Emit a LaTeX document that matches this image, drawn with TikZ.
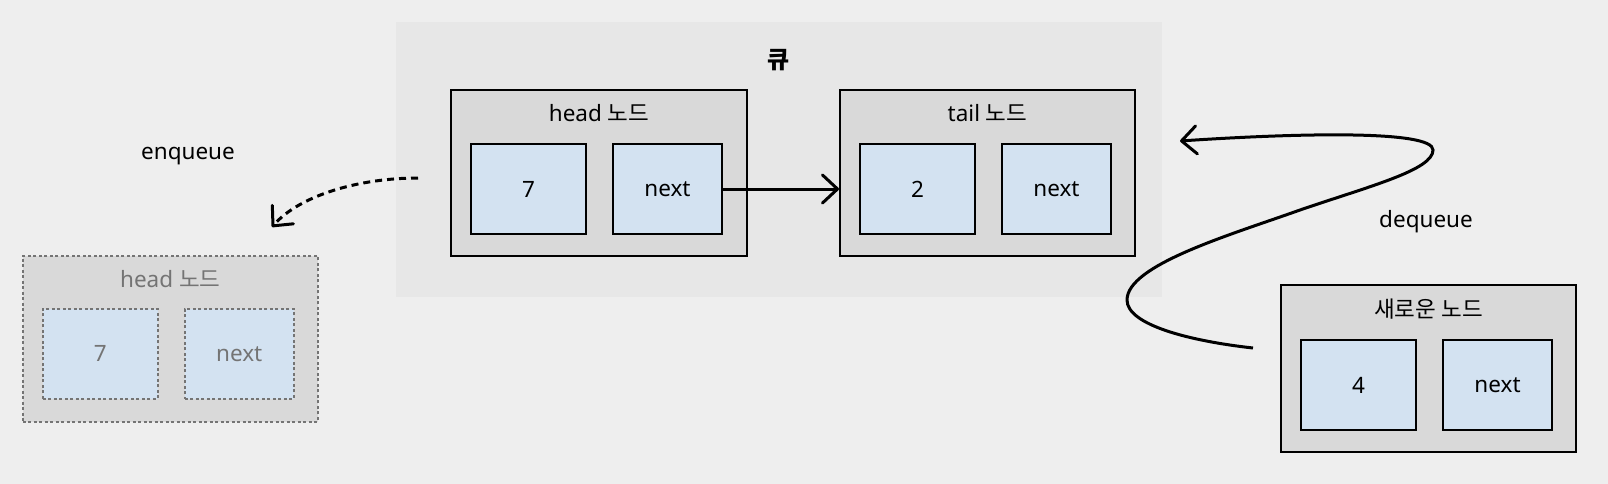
\documentclass[tikz,border=0pt]{standalone}
\usepackage{fontspec}
\setmainfont{Noto Sans}
\newfontfamily\kr{Noto Sans CJK KR}
\usetikzlibrary{arrows.meta}
\definecolor{bg}{HTML}{EEEEEE}
\definecolor{grp}{HTML}{E7E7E7}
\definecolor{nodefill}{HTML}{D9D9D9}
\definecolor{cellfill}{HTML}{D3E2F1}
\definecolor{ghost}{HTML}{747474}
\begin{document}
\begin{tikzpicture}[x=1pt,y=1pt,
  font=\fontsize{22.5}{27}\selectfont,
  grpbox/.style={fill=grp, draw=none, inner sep=0pt, anchor=north west},
  outerbox/.style={draw=black, line width=2pt, fill=nodefill, inner sep=0pt, anchor=north west, minimum width=296pt, minimum height=166pt},
  cellbox/.style={draw=black, line width=2pt, fill=cellfill, inner sep=0pt, anchor=north west, minimum height=90pt},
  ghostouter/.style={outerbox, draw=ghost, line width=1.5pt, dash pattern=on 3pt off 2.5pt},
  ghostcell/.style={cellbox, draw=ghost, line width=1.5pt, dash pattern=on 3pt off 2.5pt, text=ghost},
  lbl/.style={inner sep=0pt},
  arr/.style={line width=3pt, -{Straight Barb[length=15pt,width=28pt,round]}},
]
\useasboundingbox (0,0) rectangle (1608,-484);
\fill[bg] (0,0) rectangle (1608,-484);

% queue group
\node[grpbox, minimum width=766pt, minimum height=275pt] (q) at (396,-22) {};
\node[lbl, font=\fontsize{24}{28}\selectfont\kr\bfseries] (qt) at (779,-60) {큐};

% head node
\node[outerbox] (h) at (450,-89) {};
\node[lbl] (ht) at ([yshift=-24pt]h.north) {head {\kr 노드}};
\node[cellbox, minimum width=115pt] (h7) at (470,-143) {7};
\node[cellbox, minimum width=109pt] (hn) at (612,-143) {next};

% tail node
\node[outerbox, minimum width=295pt] (t) at (839,-89) {};
\node[lbl] (tt) at ([yshift=-24pt]t.north) {tail {\kr 노드}};
\node[cellbox, minimum width=115pt] (t2) at (859,-143) {2};
\node[cellbox, minimum width=109pt] (tn) at (1001,-143) {next};

\draw[arr] (hn.east) -- (hn.east -| t.west);

% ghost head node
\node[ghostouter, minimum width=295pt] (g) at (22,-255) {};
\node[lbl, text=ghost] (gt) at ([yshift=-24pt]g.north) {head {\kr 노드}};
\node[ghostcell, minimum width=115pt] (g7) at (42,-308) {7};
\node[ghostcell, minimum width=109pt] (gn) at (184,-308) {next};

% new node
\node[outerbox, minimum width=295pt, minimum height=167pt] (n) at (1280,-284) {};
\node[lbl] (nt) at ([yshift=-25pt]n.north) {\kr 새로운 노드};
\node[cellbox, minimum width=115pt] (n4) at (1300,-339) {4};
\node[cellbox, minimum width=109pt] (nn) at (1442,-339) {next};

% enqueue
\coordinate (es) at (418,-178);
\coordinate (ee) at (272,-227);
\draw[line width=3pt, dash pattern=on 7pt off 5pt, -{Straight Barb[length=15pt,width=28pt,round]}]
  (es) .. controls (360,-178) and (300,-195) .. (ee);
\node[lbl] (el) at (188,-156) {enqueue};

% dequeue
\coordinate (ds) at (1253,-348);
\coordinate (dm1) at (1127,-300);
\coordinate (dm2) at (1300,-210);
\coordinate (dm3) at (1433,-150);
\coordinate (de) at (1180,-141);
\draw[arr] (ds) .. controls (1190,-341) and (1127,-325) .. (dm1)
  .. controls (1127,-265) and (1230,-235) .. (dm2)
  .. controls (1370,-186) and (1433,-170) .. (dm3)
  .. controls (1433,-130) and (1300,-133) .. (de);
\node[lbl] (dl) at (1426,-222) {dequeue};
\end{tikzpicture}
\end{document}
